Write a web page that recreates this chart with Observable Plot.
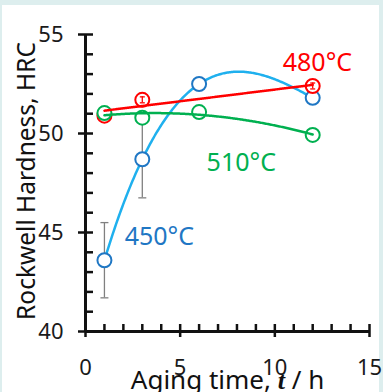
<!DOCTYPE html>
<html>
<head>
<meta charset="utf-8">
<script src="https://cdn.jsdelivr.net/npm/d3@7"></script>
<script src="https://cdn.jsdelivr.net/npm/@observablehq/plot@0.6"></script>
<style>
  html, body { margin: 0; padding: 0; background: #ddeeee; width: 383px; height: 392px; overflow: hidden; }
  #panel { position: absolute; left: 2px; top: 5px; width: 377px; height: 387px; background: #ffffff; }
  #chart { position: absolute; left: 0; top: 0; }
</style>
</head>
<body>
<div id="panel"></div>
<div id="chart"></div>
<script>
// Rockwell hardness (HRC) after aging at three temperatures
const time450 = [1, 3, 6, 12];
const hrc450  = [43.6, 48.7, 52.5, 51.8];
const err450  = [1.9, 1.95, 0, 0];

const time480 = [1, 3, 12];
const hrc480  = [50.9, 51.7, 52.4];
const err480  = [0.15, 0.15, 0.15];

const time510 = [1, 3, 6, 12];
const hrc510  = [51.03, 50.8, 51.08, 49.93];

// series labels and where they sit (h, HRC)
const seriesNames = ["450°C", "480°C", "510°C"];
const labelTime   = [3.9, 12.25, 8.23];
const labelHrc    = [44.76, 53.55, 48.51];

const yTicks = [40, 45, 50, 55];
const xTicks = [0, 5, 10, 15];

const blueLine = "#1fb0ee", blueMark = "#1f77c4", red = "#ff0000", green = "#00b050", grey = "#808080";

// least-squares polynomial trend line
function polyfit(xs, ys, deg) {
  const n = deg + 1;
  const A = Array.from({length: n}, () => Array(n + 1).fill(0));
  for (let r = 0; r < n; r++) {
    for (let c = 0; c < n; c++) A[r][c] = d3.sum(xs, x => x ** (r + c));
    A[r][n] = d3.sum(xs, (x, i) => ys[i] * x ** r);
  }
  for (let i = 0; i < n; i++) {
    let p = i;
    for (let k = i + 1; k < n; k++) if (Math.abs(A[k][i]) > Math.abs(A[p][i])) p = k;
    [A[i], A[p]] = [A[p], A[i]];
    for (let k = i + 1; k < n; k++) {
      const f = A[k][i] / A[i][i];
      for (let j = i; j <= n; j++) A[k][j] -= f * A[i][j];
    }
  }
  const coef = Array(n).fill(0);
  for (let i = n - 1; i >= 0; i--) {
    let s = A[i][n];
    for (let j = i + 1; j < n; j++) s -= A[i][j] * coef[j];
    coef[i] = s / A[i][i];
  }
  return x => coef.reduce((s, c, k) => s + c * x ** k, 0);
}
function trend(xs, ys, deg) {
  const f = polyfit(xs, ys, deg);
  const lo = d3.min(xs), hi = d3.max(xs);
  return d3.range(0, 201).map(i => { const t = lo + (hi - lo) * i / 200; return {t, v: f(t)}; });
}

const rows = (ts, vs, es) => ts.map((t, i) => ({t, v: vs[i], e: es ? es[i] : 0}));
const s450 = rows(time450, hrc450, err450);
const s480 = rows(time480, hrc480, err480);
const s510 = rows(time510, hrc510);
const labels = seriesNames.map((name, i) => ({name, t: labelTime[i], v: labelHrc[i]}));
const labelColors = [blueMark, red, green];

// horizontal cap for error bars
const capSymbol = {draw(ctx, size) { const r = Math.sqrt(size / Math.PI); ctx.moveTo(-r, 0); ctx.lineTo(r, 0); }};

function errorBars(data, color, capR, width) {
  const d = data.filter(r => r.e > 0);
  return [
    Plot.ruleX(d, {x: "t", y1: r => r.v - r.e, y2: r => r.v + r.e, stroke: color, strokeWidth: width}),
    Plot.dot(d, {x: "t", y: r => r.v - r.e, symbol: capSymbol, r: capR, stroke: color, strokeWidth: width}),
    Plot.dot(d, {x: "t", y: r => r.v + r.e, symbol: capSymbol, r: capR, stroke: color, strokeWidth: width})
  ];
}
const markers = (data, color) => Plot.dot(data, {x: "t", y: "v", r: 7, fill: "white", stroke: color, strokeWidth: 2});

const xTitle = "Aging time, t / h";
const yTitle = "Rockwell Hardness, HRC";

const chart = Plot.plot({
  width: 383,
  height: 392,
  marginLeft: 85,
  marginRight: 14,
  marginTop: 34,
  marginBottom: 61,
  style: {fontFamily: "'Noto Sans', sans-serif", fontSize: "22px", color: "#1a1a1a", background: "transparent", overflow: "visible"},
  x: {domain: [0, 15], axis: null},
  y: {domain: [40, 55], axis: null},
  marks: [
    // axes
    Plot.axisY({ticks: d3.range(40, 56), tickSize: -8, tickFormat: () => "", label: null, strokeWidth: 2.5, stroke: "#111"}),
    Plot.axisY({ticks: yTicks, tickSize: 7, tickPadding: 15, fontSize: 22, label: null, strokeWidth: 2.5, stroke: "#111"}),
    Plot.axisX({ticks: d3.range(0, 16), tickSize: -7, tickFormat: () => "", label: null, strokeWidth: 2.5, stroke: "#111"}),
    Plot.axisX({ticks: xTicks, tickSize: 6, tickPadding: 22, fontSize: 22, label: null, strokeWidth: 2.5, stroke: "#111"}),
    Plot.ruleX([0], {strokeWidth: 3, stroke: "#111"}),
    Plot.ruleY([40], {strokeWidth: 3, stroke: "#111"}),

    // 450 °C: cubic trend
    Plot.line(trend(time450, hrc450, 3), {x: "t", y: "v", stroke: blueLine, strokeWidth: 2.5}),
    ...errorBars(s450, grey, 4, 1.3),
    markers(s450, blueMark),

    // 480 °C: linear trend
    markers(s480, red),
    ...errorBars(s480, red, 2.5, 1.3),

    // 510 °C: quadratic trend
    markers(s510, green),
    Plot.line(trend(time510, hrc510, 2), {x: "t", y: "v", stroke: green, strokeWidth: 2.5}),

    Plot.line(trend(time480, hrc480, 1), {x: "t", y: "v", stroke: red, strokeWidth: 2.5}),

    // series labels
    Plot.text(labels, {x: "t", y: "v", text: "name", fill: (d, i) => labelColors[i], fontSize: 25}),

    // axis titles
    Plot.text([xTitle], {frameAnchor: "bottom", dy: 57, lineAnchor: "bottom", fontSize: 26, fill: "#111"}),
    Plot.text([yTitle], {frameAnchor: "left", textAnchor: "middle", rotate: -90, dx: -58, dy: -2, lineAnchor: "middle", fontSize: 24.5, fill: "#111"})
  ]
});

// bold italic t in the x title
d3.select(chart).selectAll("text").filter(function () { return this.textContent === xTitle; }).each(function () {
  const t = d3.select(this);
  t.text(null);
  t.append("tspan").text("Aging time, ");
  t.append("tspan").style("font-family", "'Liberation Serif', serif").style("font-weight", "bold").style("font-style", "italic").text("t");
  t.append("tspan").text(" / h");
});

document.getElementById("chart").appendChild(chart);
</script>
</body>
</html>
